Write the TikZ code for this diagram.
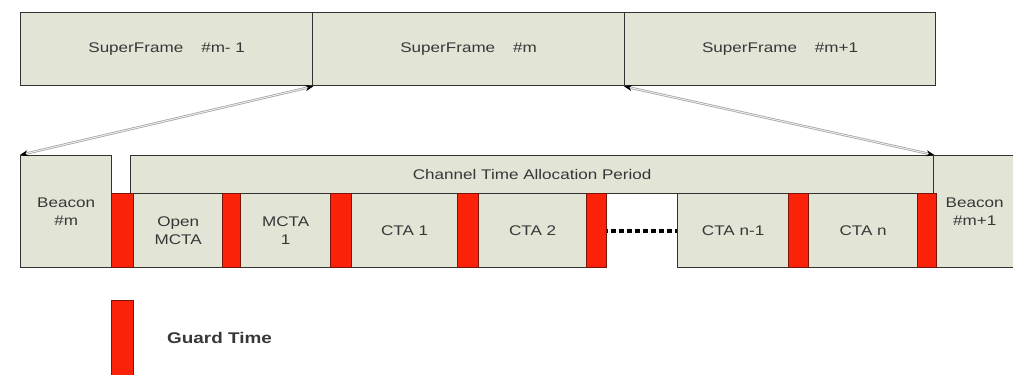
\documentclass[tikz,border=0pt]{standalone}
\usepackage{fontspec}
\setmainfont{Liberation Sans}[FakeStretch=1.22]
\usetikzlibrary{arrows.meta}
\definecolor{boxfill}{RGB}{226,229,214}
\definecolor{guardred}{RGB}{250,35,10}
\definecolor{guardedge}{RGB}{120,20,10}
\definecolor{linec}{RGB}{50,50,50}
\definecolor{txt}{RGB}{55,55,55}
\begin{document}
\begin{tikzpicture}[x=1pt,y=-1pt,
  box/.style={draw=linec, fill=boxfill, line width=1.3pt, inner sep=0pt, anchor=north west,
    font=\fontsize{14}{18}\selectfont, text=txt, align=center},
  cbox/.style={box, minimum height=74pt},
  guard/.style={draw=guardedge, fill=guardred, line width=0.8pt, inner sep=0pt, anchor=north west, minimum height=74pt},
  conn/.style={draw=gray!75, double=gray!15, double distance=1pt, line width=0.7pt,
    {Stealth[length=8pt,width=6pt,black]}-{Stealth[length=8pt,width=6pt,black]}},
  dots/.style={draw=black, line width=4pt, dash pattern=on 5pt off 3pt},
  lbl/.style={font=\bfseries\fontsize{15.5}{18}\selectfont, text=txt, inner sep=0pt, anchor=west}]
\useasboundingbox (0,0) rectangle (1013,375);
% top superframes
\node[box, minimum width=292pt, minimum height=73pt] (sf1) at (20,12) {SuperFrame\hspace{18pt}\#m- 1};
\node[box, minimum width=312pt, minimum height=73pt] (sf2) at (312,12) {SuperFrame\hspace{18pt}\#m};
\node[box, minimum width=311pt, minimum height=73pt] (sf3) at (624,12) {SuperFrame\hspace{18pt}\#m+1};
% bottom
\node[box, minimum width=91pt, minimum height=112pt] (bm) at (20,155) {Beacon\\\#m};
\node[box, minimum width=82pt, minimum height=112pt] (bm1) at (933,155) {Beacon\\\#m+1};
\node[box, minimum width=803pt, minimum height=38pt] (ctap) at (130,155) {Channel Time Allocation Period};
\node[cbox, minimum width=89pt] (omcta) at (133,193) {Open\\MCTA};
\node[cbox, minimum width=90pt] (mcta1) at (240,193) {MCTA\\1};
\node[cbox, minimum width=106pt] (cta1) at (351,193) {CTA 1};
\node[cbox, minimum width=108pt] (cta2) at (478,193) {CTA 2};
\node[cbox, minimum width=111pt] (ctan1) at (677,193) {CTA n-1};
\node[cbox, minimum width=109pt] (ctan) at (808,193) {CTA n};
\draw[dots] (cta2.east) -- (ctan1.west);
% guard times
\node[guard, minimum width=22pt] (g1) at (111,193) {};
\node[guard, minimum width=18pt] (g2) at (222,193) {};
\node[guard, minimum width=21pt] (g3) at (330,193) {};
\node[guard, minimum width=21pt] (g4) at (457,193) {};
\node[guard, minimum width=20pt] (g5) at (586,193) {};
\node[guard, minimum width=20pt] (g6) at (788,193) {};
\node[guard, minimum width=19pt] (g7) at (917,193) {};
% connectors
\draw[conn] (sf1.south east) -- (bm.north west);
\draw[conn] (sf3.south west) -- (ctap.north east);
% legend
\node[guard, minimum width=22pt, minimum height=80pt] (lg) at (111,300) {};
\node[lbl] (lt) at (167,338) {Guard Time};
\end{tikzpicture}
\end{document}
